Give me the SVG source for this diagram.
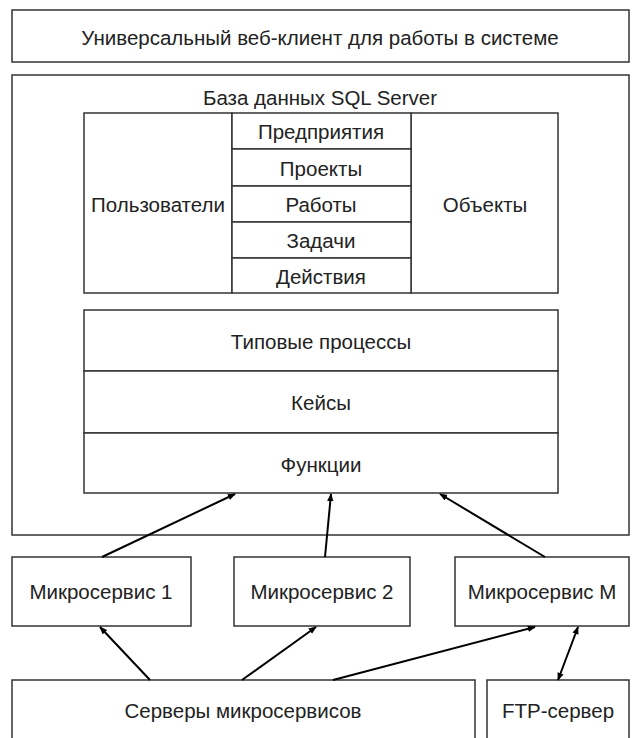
<svg xmlns="http://www.w3.org/2000/svg" width="641" height="738" viewBox="0 0 641 738">
<defs>
<style>
.b{fill:#fff;stroke:#333;stroke-width:1.5}
.t{font-family:"Liberation Sans",Arial,sans-serif;font-size:20.5px;fill:#222;text-anchor:middle;dominant-baseline:central}
.c{stroke:#000;stroke-width:2;fill:none;marker-end:url(#a)}
</style>
<marker id="a" viewBox="0 0 10 10" refX="9" refY="5" markerWidth="8" markerHeight="8" orient="auto-start-reverse" markerUnits="userSpaceOnUse">
<path d="M0,1 L10,5 L0,9 z" fill="#000"/>
</marker>
</defs>
<rect width="641" height="738" fill="#fff"/>
<g id="client"><rect class="b" x="12" y="10" width="617" height="52"/><text class="t" x="320" y="37">Универсальный веб-клиент для работы в системе</text></g>
<g id="db"><rect class="b" x="12" y="75" width="617" height="460"/><text class="t" x="320" y="97">База данных SQL Server</text></g>
<g id="users"><rect class="b" x="84" y="113" width="148" height="180"/><text class="t" x="158" y="204">Пользователи</text></g>
<g id="objects"><rect class="b" x="411" y="113" width="147" height="180"/><text class="t" x="485" y="204">Объекты</text></g>
<g id="ent"><rect class="b" x="232" y="113" width="179" height="36"/><text class="t" x="321" y="131">Предприятия</text></g>
<g id="proj"><rect class="b" x="232" y="149" width="179" height="37"/><text class="t" x="321" y="168">Проекты</text></g>
<g id="works"><rect class="b" x="232" y="186" width="179" height="36"/><text class="t" x="321" y="204">Работы</text></g>
<g id="tasks"><rect class="b" x="232" y="222" width="179" height="36"/><text class="t" x="321" y="240">Задачи</text></g>
<g id="acts"><rect class="b" x="232" y="258" width="179" height="35"/><text class="t" x="321" y="276">Действия</text></g>
<g id="typ"><rect class="b" x="84" y="310" width="474" height="61"/><text class="t" x="321" y="341">Типовые процессы</text></g>
<g id="cases"><rect class="b" x="84" y="371" width="474" height="62"/><text class="t" x="321" y="402">Кейсы</text></g>
<g id="func"><rect class="b" x="84" y="433" width="474" height="60"/><text class="t" x="321" y="464">Функции</text></g>
<g id="ms1"><rect class="b" x="12" y="557" width="179" height="69"/><text class="t" x="101" y="591">Микросервис 1</text></g>
<g id="ms2"><rect class="b" x="234" y="557" width="176" height="69"/><text class="t" x="322" y="591">Микросервис 2</text></g>
<g id="msm"><rect class="b" x="455" y="557" width="174" height="69"/><text class="t" x="542" y="591">Микросервис M</text></g>
<g id="servers"><rect class="b" x="12" y="680" width="463" height="70"/><text class="t" x="243" y="710">Серверы микросервисов</text></g>
<g id="ftp"><rect class="b" x="487" y="680" width="142" height="70"/><text class="t" x="558" y="710">FTP-сервер</text></g>
<g id="connectors">
<line class="c" x1="102" y1="557" x2="235" y2="494"/>
<line class="c" x1="325" y1="557" x2="331" y2="494"/>
<line class="c" x1="545" y1="557" x2="440" y2="494"/>
<line class="c" x1="150" y1="680" x2="100" y2="627"/>
<line class="c" x1="242" y1="680" x2="316" y2="627"/>
<line class="c" x1="333" y1="680" x2="535" y2="627"/>
<line class="c" x1="558" y1="680" x2="578" y2="627" style="marker-start:url(#a)"/>
</g>
</svg>
